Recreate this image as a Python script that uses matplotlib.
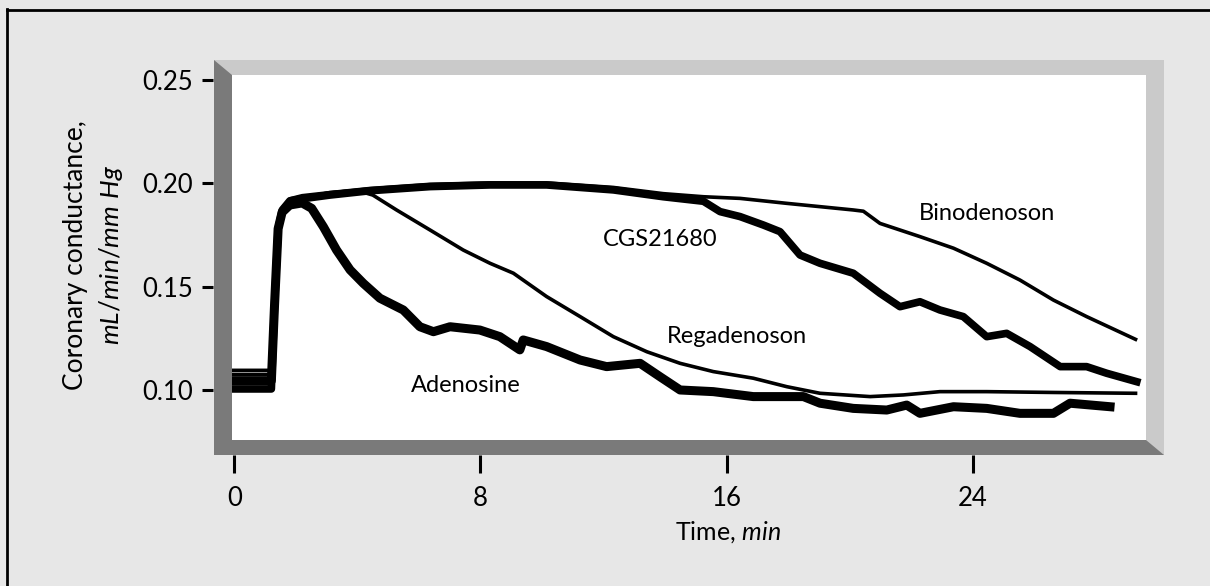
import numpy as np
import matplotlib.pyplot as plt
from matplotlib.patches import Polygon
from matplotlib.lines import Line2D

plt.rcParams['font.family'] = ['Lato', 'DejaVu Sans']
plt.rcParams['mathtext.fontset'] = 'custom'
plt.rcParams['mathtext.rm'] = 'Lato'
plt.rcParams['mathtext.it'] = 'Lato:italic'

# 读图得到的数据 (时间 min, 冠脉传导 mL/min/mm Hg)
t_adenosine = [-0.05, 1.2, 1.3, 1.42, 1.55, 1.8, 2.2, 2.51, 2.89, 3.32, 3.76, 4.19, 4.73, 5.49,
               6.03, 6.47, 7.01, 7.98, 8.63, 9.28, 9.39, 10.15, 11.24, 12.1, 13.19, 13.84,
               14.49, 15.57, 16.87, 18.5, 19.04, 20.12, 21.21, 21.86, 22.29, 23.38, 24.46,
               25.54, 26.63, 27.17, 28.47]
v_adenosine = [0.1045, 0.1045, 0.14, 0.178, 0.186, 0.1895, 0.1905, 0.1879, 0.179, 0.1677,
               0.1581, 0.1516, 0.1444, 0.1387, 0.1306, 0.1282, 0.1306, 0.129, 0.1258, 0.1194,
               0.1242, 0.121, 0.1145, 0.1113, 0.1129, 0.1064, 0.1, 0.0992, 0.0968, 0.0968,
               0.0936, 0.0911, 0.0903, 0.0927, 0.0887, 0.0919, 0.0911, 0.0887, 0.0887, 0.0936,
               0.0919]

t_regadenoson = [-0.05, 1.2, 1.3, 1.42, 1.55, 1.8, 2.2, 3.1, 4.0, 4.5, 5.27, 6.36, 7.44, 8.31,
                 9.07, 10.15, 11.24, 12.32, 13.41, 14.49, 15.57, 16.87, 17.96, 19.04, 20.67,
                 21.75, 22.94, 24.46, 26.63, 29.3]
v_regadenoson = [0.1095, 0.1095, 0.145, 0.18, 0.188, 0.1915, 0.193, 0.1955, 0.1965, 0.1943,
                 0.1871, 0.1774, 0.1677, 0.1613, 0.1565, 0.1452, 0.1355, 0.1258, 0.1185, 0.1129,
                 0.1089, 0.1057, 0.1016, 0.0984, 0.0968, 0.0976, 0.0992, 0.0992, 0.0988, 0.0984]

t_cgs = [-0.05, 1.2, 1.3, 1.42, 1.55, 1.8, 2.2, 3.1, 4.41, 6.36, 8.31, 10.15, 12.32, 13.94,
         15.25, 15.79, 16.44, 17.2, 17.74, 18.39, 19.04, 20.12, 20.99, 21.64, 22.29, 22.94,
         23.7, 24.46, 25.11, 25.87, 26.85, 27.71, 28.36, 29.34]
v_cgs = [0.1005, 0.1005, 0.14, 0.178, 0.187, 0.1915, 0.1925, 0.1943, 0.1964, 0.1984, 0.1992,
         0.1992, 0.1968, 0.1935, 0.1913, 0.1863, 0.1839, 0.1798, 0.1766, 0.1653, 0.1613,
         0.1565, 0.1468, 0.1403, 0.1427, 0.1387, 0.1355, 0.1258, 0.1274, 0.121, 0.1113,
         0.1113, 0.1081, 0.104]

t_binodenoson = [-0.05, 1.2, 1.3, 1.42, 1.55, 1.8, 2.2, 3.1, 4.41, 6.36, 8.31, 10.15, 12.32,
                 13.94, 15.25, 16.44, 17.96, 20.12, 20.45, 20.99, 22.29, 23.38, 24.46, 25.54,
                 26.63, 27.71, 29.3]
v_binodenoson = [0.1075, 0.1075, 0.143, 0.18, 0.188, 0.1925, 0.194, 0.1955, 0.1975, 0.1995,
                 0.2002, 0.2002, 0.198, 0.195, 0.1935, 0.1927, 0.1903, 0.1871, 0.1865, 0.1806,
                 0.1742, 0.1686, 0.1613, 0.1532, 0.1435, 0.1355, 0.1245]

labels = ['Adenosine', 'Regadenoson', 'CGS21680', 'Binodenoson']
label_x = [7.53, 16.34, 13.84, 24.47]
label_y = [0.1024, 0.126, 0.173, 0.1856]

x_ticks = [0, 8, 16, 24]
y_ticks = [0.10, 0.15, 0.20, 0.25]

W, H = 1210, 586
fig = plt.figure(figsize=(W / 100, H / 100), dpi=100, facecolor='#e7e7e7')

# 白色绘图区 (像素)
L, R, T, B = 232, 1146, 75, 440
ax = fig.add_axes([L / W, (H - B) / H, (R - L) / W, (B - T) / H])
ax.set_facecolor('white')

ax.plot(t_regadenoson, v_regadenoson, color='black', lw=2.6, solid_joinstyle='round')
ax.plot(t_binodenoson, v_binodenoson, color='black', lw=2.6, solid_joinstyle='round')
ax.plot(t_adenosine, v_adenosine, color='black', lw=6.5, solid_joinstyle='round')
ax.plot(t_cgs, v_cgs, color='black', lw=5.5, solid_joinstyle='round')

for s, x, y in zip(labels, label_x, label_y):
    ax.text(x, y, s, ha='center', va='center', fontsize=17)

ax.set_xlim(-0.08, 29.64)
ax.set_ylim(0.0758, 0.2524)
ax.set_xticks(x_ticks)
ax.set_xticklabels([str(v) for v in x_ticks])
ax.set_yticks(y_ticks)
ax.set_yticklabels(['%.2f' % v for v in y_ticks])

for side in ['top', 'right', 'left', 'bottom']:
    ax.spines[side].set_visible(False)
ax.spines['left'].set_position(('outward', 13.5))
ax.spines['bottom'].set_position(('outward', 10.8))
ax.tick_params(axis='y', direction='out', length=8, width=2.2, pad=6.5, labelsize=18.5)
ax.tick_params(axis='x', direction='out', length=13, width=2.2, pad=9.5, labelsize=18.5)

# 灰色立体边框
fl, ft = 18, 15
def px(x, y):
    return (x / W, (H - y) / H)

light = Polygon([px(L - fl, T - ft), px(R + fl, T - ft), px(R + fl, B + ft), px(L - fl, B + ft)],
                closed=True, facecolor='#cacaca', edgecolor='none',
                transform=fig.transFigure, zorder=-2)
dark = Polygon([px(L - fl, T - ft), px(L, T), px(L, B), px(R, B), px(R + fl, B + ft),
                px(L - fl, B + ft)],
               closed=True, facecolor='#7a7a7a', edgecolor='none',
               transform=fig.transFigure, zorder=-1)
fig.add_artist(light)
fig.add_artist(dark)

# 外框 (只露出左边和上边)
fig.add_artist(Line2D([7 / W, 7 / W], [-0.05, (H - 9) / H], color='black', lw=2.0,
                      solid_capstyle='projecting', transform=fig.transFigure))
fig.add_artist(Line2D([7 / W, 1.05], [(H - 10) / H, (H - 10) / H], color='black', lw=2.0,
                      solid_capstyle='projecting', transform=fig.transFigure))

fig.text(728 / W, (H - 532) / H, 'Time, $min$', ha='center', va='center', fontsize=18)
fig.text(94 / W, (H - 255) / H, 'Coronary conductance,\n$mL/min/mm\\ Hg$', ha='center',
         va='center', rotation=90, fontsize=19, linespacing=1.4, multialignment='center')

fig.savefig('out.png', dpi=100, facecolor=fig.get_facecolor())
